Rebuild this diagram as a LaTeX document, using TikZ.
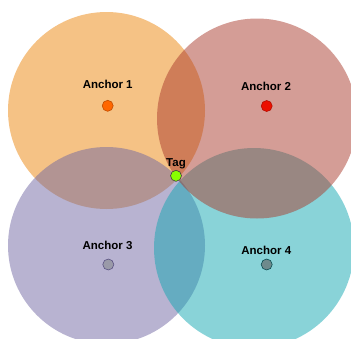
\documentclass[tikz,border=0pt]{standalone}
\usepackage{fontspec}
\setmainfont{Liberation Sans}
\usetikzlibrary{positioning}
\definecolor{rangeA}{RGB}{235,133,11}
\definecolor{rangeB}{RGB}{169,59,45}
\definecolor{rangeC}{RGB}{113,103,163}
\definecolor{rangeD}{RGB}{19,167,177}
\definecolor{dotA}{RGB}{255,102,0}
\definecolor{dotB}{RGB}{236,16,0}
\definecolor{dotC}{RGB}{154,154,168}
\definecolor{dotD}{RGB}{110,138,140}
\definecolor{tagfill}{RGB}{136,255,0}
\tikzstyle{rangedisc}=[fill opacity=0.5]
\tikzstyle{anchordot}=[circle,draw,line width=0.6pt,minimum size=11pt,inner sep=0pt]
\tikzstyle{tagdot}=[circle,draw=black!75,fill=tagfill,line width=0.6pt,minimum size=11pt,inner sep=0pt]
\tikzstyle{caption}=[font=\fontsize{11.5}{13}\selectfont\bfseries,inner sep=1pt]

\begin{document}
\begin{tikzpicture}[x=1pt,y=-1pt]
    \useasboundingbox (0,0) rectangle (351,338);

    % ranges around each anchor, drawn in this order for the overlaps
    \begin{scope}
    \clip (0,0) rectangle (351,338);
    \foreach \pos/\r/\col in {{(106.5,110.5)/98.5/rangeA}, {(106.5,245.5)/98.5/rangeC}, {(254,248)/100/rangeD}, {(257,118.5)/100/rangeB}}
        \fill[rangedisc,\col] \pos circle (\r);
    \end{scope}

    \foreach \pos/\name/\col/\bord in {{(107.7,105.8)/A1/dotA/dotA!75!black}, {(266.7,106)/A2/dotB/dotB!75!black}, {(108.3,264.5)/A3/dotC/rangeC!80!black}, {(266.7,264.5)/A4/dotD/rangeD!45!black}}
        \node[anchordot,fill=\col,draw=\bord] (\name) at \pos {};

    \node[tagdot] (tag) at (176,175.8) {};

    \foreach \pos/\name/\label in {{(107.7,84.3)/L1/Anchor 1}, {(266,86)/L2/Anchor 2}, {(107.5,245.7)/L3/Anchor 3}, {(266.3,250)/L4/Anchor 4}}
        \node[caption] (\name) at \pos {\label};

    \node[caption,above=0pt of tag] (tagname) {Tag};

\end{tikzpicture}
\end{document}
